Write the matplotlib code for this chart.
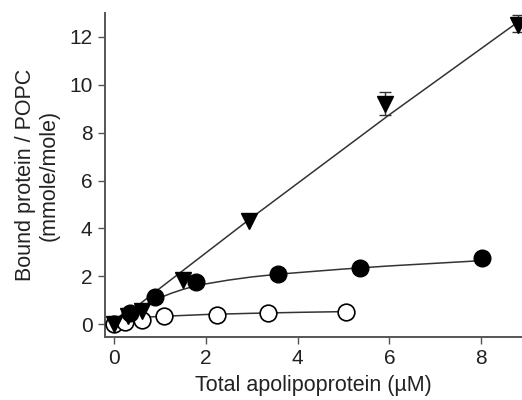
import matplotlib
matplotlib.use("Agg")
import matplotlib.pyplot as plt

# =========================================================
# Data
# =========================================================

tri_x = [0.0, 0.3, 0.6, 1.5, 2.95, 5.9, 8.8]
tri_y = [0.0, 0.35, 0.55, 1.85, 4.3, 9.2, 12.5]
tri_err_x = [5.9, 8.8]
tri_err_y = [9.2, 12.5]
tri_err_lo = [0.45, 0.3]
tri_err_hi = [0.5, 0.4]

fill_x = [0.35, 0.89, 1.78, 3.58, 5.36, 8.02]
fill_y = [0.45, 1.14, 1.75, 2.08, 2.36, 2.75]

open_x = [0.0, 0.24, 0.6, 1.09, 2.25, 3.35, 5.05]
open_y = [0.0, 0.08, 0.17, 0.33, 0.4, 0.45, 0.52]

# fitted curves
tri_fit_x = [0.0, 1.0, 3.0, 6.0, 8.8]
tri_fit_y = [0.0, 1.5, 4.45, 8.75, 12.62]

fill_fit_x = [0.0, 0.25, 0.5, 0.75, 1.0, 1.25, 1.5, 1.75, 2.0, 2.5,
              3.0, 3.5, 4.0, 5.0, 6.0, 7.0, 8.0]
fill_fit_y = [0.0, 0.33, 0.62, 0.88, 1.1, 1.29, 1.45, 1.58, 1.68, 1.84,
              1.97, 2.07, 2.15, 2.3, 2.43, 2.54, 2.65]

open_fit_x = [0.0, 0.1, 0.2, 0.3, 0.45, 0.6, 0.8, 1.0, 1.5, 2.0, 3.0,
              4.0, 5.0]
open_fit_y = [0.0, 0.1, 0.17, 0.21, 0.25, 0.28, 0.3, 0.32, 0.36, 0.4,
              0.45, 0.49, 0.52]

x_ticks = [0, 2, 4, 6, 8]
y_ticks = [0, 2, 4, 6, 8, 10, 12]

# =========================================================
# Figure
# =========================================================

plt.rcParams["font.family"] = ["Liberation Sans", "DejaVu Sans"]

fig = plt.figure(figsize=(5.22, 4.0), dpi=100)
ax = fig.add_axes([0.201, 0.1575, 0.799, 0.81])

ax.plot(tri_fit_x, tri_fit_y, color="#333333", lw=1.1, zorder=1)
ax.plot(fill_fit_x, fill_fit_y, color="#333333", lw=1.1, zorder=1)
ax.plot(open_fit_x, open_fit_y, color="#333333", lw=1.1, zorder=1)

ax.errorbar(tri_err_x, tri_err_y,
            yerr=[tri_err_lo, tri_err_hi], fmt="none",
            ecolor="#333333", elinewidth=1.0, capsize=4, capthick=1.0,
            zorder=2, clip_on=False)

ax.plot(open_x, open_y, "o", ms=12, mfc="white", mec="black",
        mew=1.2, zorder=3, clip_on=False)
ax.plot(fill_x, fill_y, "o", ms=12, mfc="black", mec="black",
        zorder=4, clip_on=False)
ax.plot(tri_x, tri_y, "v", ms=12, mfc="black", mec="black",
        zorder=5, clip_on=False)

ax.set_xlim(-0.2, 8.89)
ax.set_ylim(-0.54, 13.0)

ax.set_xticks(x_ticks)
ax.set_yticks(y_ticks)

ax.spines["top"].set_visible(False)
ax.spines["right"].set_visible(False)
for side in ["left", "bottom"]:
    ax.spines[side].set_color("#555555")
    ax.spines[side].set_linewidth(1.4)

ax.tick_params(direction="out", length=5, width=1.0, color="#555555",
               labelsize=15, labelcolor="#222222", pad=4)

ax.set_xlabel("Total apolipoprotein (\u00b5M)", fontsize=15.5,
              color="#222222", labelpad=5)
ax.set_ylabel("Bound protein / POPC\n(mmole/mole)", fontsize=15.5,
              color="#222222", labelpad=7, linespacing=1.15)

fig.savefig("out.png", dpi=100)
